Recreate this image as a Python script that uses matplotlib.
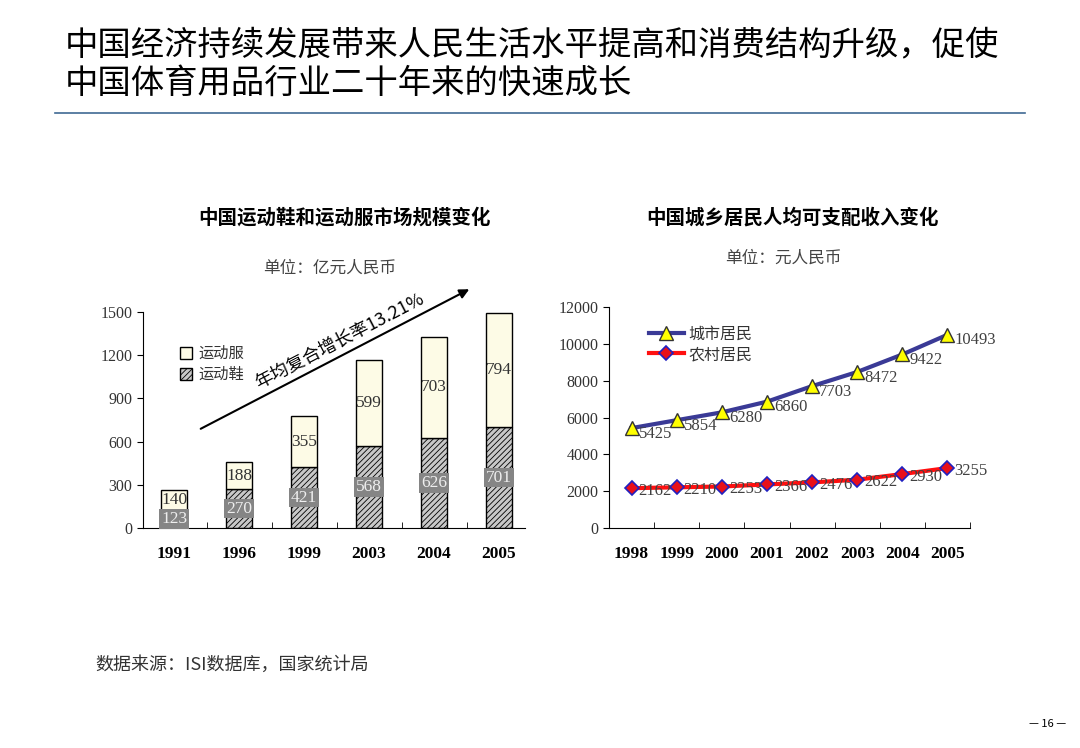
import matplotlib
matplotlib.use("Agg")
import matplotlib.pyplot as plt
import numpy as np

plt.rcParams['font.family'] = ['Noto Sans CJK SC', 'DejaVu Sans']

# 左图：运动鞋/运动服市场规模（亿元）
years_bar = ['1991', '1996', '1999', '2003', '2004', '2005']
shoes = [123, 270, 421, 568, 626, 701]
apparel = [140, 188, 355, 599, 703, 794]

# 右图：城乡居民人均可支配收入（元）
years_line = ['1998', '1999', '2000', '2001', '2002', '2003', '2004', '2005']
urban = [5425, 5854, 6280, 6860, 7703, 8472, 9422, 10493]
rural = [2162, 2210, 2253, 2366, 2476, 2622, 2930, 3255]

W, H = 1080, 748
fig = plt.figure(figsize=(W / 100, H / 100), dpi=100)

def px_axes(x0, y0, x1, y1):
    # pixel box (top-left origin) -> figure axes
    return fig.add_axes([x0 / W, 1 - y1 / H, (x1 - x0) / W, (y1 - y0) / H])

serif = ['Liberation Serif', 'DejaVu Serif']
grey = '#333333'

# 标题
fig.text(65 / W, 1 - 45 / H, '中国经济持续发展带来人民生活水平提高和消费结构升级，促使',
         fontsize=24, va='center', ha='left')
fig.text(65 / W, 1 - 83 / H, '中国体育用品行业二十年来的快速成长',
         fontsize=24, va='center', ha='left')
fig.add_artist(plt.Line2D([55 / W, 1025 / W], [1 - 113 / H, 1 - 113 / H],
                          color='#3f6a94', lw=1.2))

fig.text(345 / W, 1 - 218 / H, '中国运动鞋和运动服市场规模变化', fontsize=14,
         fontweight='bold', ha='center', va='center')
fig.text(330 / W, 1 - 268 / H, '单位：亿元人民币', fontsize=12, ha='center',
         va='center', color='#444444')
fig.text(793 / W, 1 - 218 / H, '中国城乡居民人均可支配收入变化', fontsize=14,
         fontweight='bold', ha='center', va='center')
fig.text(783 / W, 1 - 258 / H, '单位：元人民币', fontsize=12, ha='center',
         va='center', color='#444444')

fig.text(95 / W, 1 - 665 / H, '数据来源：ISI数据库，国家统计局', fontsize=13,
         ha='left', va='center', color='#333333')
fig.text(1048 / W, 1 - 724 / H, '— 16 —', fontsize=8, ha='center', va='center')

# ---- 左图 ----
ax1 = px_axes(143, 312, 525, 528)
x = np.arange(len(years_bar))
plt.rcParams['hatch.color'] = '#555555'
plt.rcParams['hatch.linewidth'] = 0.6
b1 = ax1.bar(x, shoes, width=0.4, color='#c8c8c8', edgecolor='black', lw=1,
             hatch='//////', label='运动鞋')
b2 = ax1.bar(x, apparel, width=0.4, bottom=shoes, color='#fdfbe6',
             edgecolor='black', lw=1, label='运动服')
for i in range(len(x)):
    ax1.text(x[i], shoes[i] / 2, str(shoes[i]), ha='center', va='center',
             fontsize=12.5, family=serif, color='#eeeeee', zorder=6,
             bbox=dict(boxstyle='square,pad=0.1', fc='#858585', ec='none'))
    ax1.text(x[i], shoes[i] + apparel[i] / 2, str(apparel[i]), ha='center',
             va='center', fontsize=12.5, family=serif, color='#333333',
             zorder=6)
ax1.set_xlim(-0.48, 5.4)
ax1.set_ylim(0, 1500)
ax1.set_yticks(range(0, 1501, 300))
ax1.set_xticks(x)
ax1.set_xticklabels(years_bar, fontweight='bold', family=serif, fontsize=12.5)
ax1.set_xticks(x[:-1] + 0.5, minor=True)
ax1.tick_params(axis='x', which='major', length=0, pad=13)
ax1.tick_params(axis='x', which='minor', direction='in', length=4)
ax1.tick_params(axis='y', length=4, labelsize=11.5, labelcolor=grey)
for lab in ax1.get_yticklabels():
    lab.set_family(serif)
ax1.spines['top'].set_visible(False)
ax1.spines['right'].set_visible(False)
ax1.legend(handles=[b2, b1], loc='upper left', bbox_to_anchor=(0.06, 0.91),
           frameon=False, fontsize=11, handlelength=0.8, handleheight=0.8,
           handletextpad=0.4, labelspacing=0.25, labelcolor='#333333')
ax1.annotate('', xy=(4.58, 1667), xytext=(0.37, 680),
             arrowprops=dict(arrowstyle='-|>', color='black', lw=1.5,
                             mutation_scale=14), annotation_clip=False)
ax1.text(2.55, 1300, '年均复合增长率13.21%', rotation=27.5, ha='center',
         va='center', fontsize=13, rotation_mode='anchor')

# ---- 右图 ----
ax2 = px_axes(609, 307, 970, 528)
xl = np.arange(len(years_line))
ax2.plot(xl, urban, color='#3a3a96', lw=3, marker='^', ms=10,
         mfc='#ffff00', mec='#333333', mew=1, label='城市居民')
ax2.plot(xl, rural, color='#ff1010', lw=3, marker='D', ms=7,
         mfc='#e8101a', mec='#2020c0', mew=1.2, label='农村居民')
for i in range(len(xl)):
    ax2.annotate(str(urban[i]), (xl[i], urban[i]), xytext=(5, -4),
                 textcoords='offset points', ha='left', va='center',
                 fontsize=12, family=serif, color='#404040')
    ax2.annotate(str(rural[i]), (xl[i], rural[i]), xytext=(5, -2),
                 textcoords='offset points', ha='left', va='center',
                 fontsize=12, family=serif, color='#404040')
ax2.set_xlim(-0.5, 7.5)
ax2.set_ylim(0, 12000)
ax2.set_yticks(range(0, 12001, 2000))
ax2.set_xticks(xl)
ax2.set_xticklabels(years_line, fontweight='bold', family=serif, fontsize=12.5)
ax2.set_xticks(xl + 0.5, minor=True)
ax2.tick_params(axis='x', which='major', length=0, pad=13)
ax2.tick_params(axis='x', which='minor', direction='in', length=4)
ax2.tick_params(axis='y', length=4, labelsize=11.5, labelcolor=grey)
for lab in ax2.get_yticklabels():
    lab.set_family(serif)
ax2.spines['top'].set_visible(False)
ax2.spines['right'].set_visible(False)
ax2.legend(loc='upper left', bbox_to_anchor=(0.07, 0.98), frameon=False,
           fontsize=11.5, handlelength=2.2, handletextpad=0.3,
           labelspacing=0.2, labelcolor='#333333')

fig.savefig('out.png', dpi=100)
